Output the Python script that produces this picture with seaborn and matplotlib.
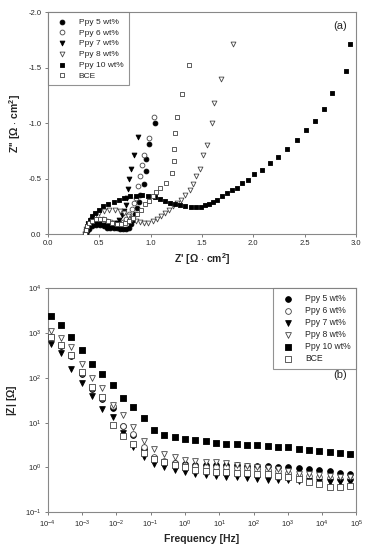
import numpy as np
import pandas as pd
import matplotlib
matplotlib.use('Agg')
import matplotlib.pyplot as plt
import seaborn as sns

# ---- (a) Nyquist data: Z' and -Z'' [ohm cm2] ----
ppy5_re = [0.37, 0.38, 0.40, 0.43, 0.47, 0.51, 0.55, 0.58, 0.61, 0.64, 0.67, 0.70, 0.73, 0.76,
           0.79, 0.81, 0.83, 0.85, 0.87, 0.89, 0.90, 0.94, 0.955, 0.955, 0.99, 1.04]
ppy5_im = [0.0, 0.03, 0.05, 0.07, 0.08, 0.08, 0.07, 0.06, 0.055, 0.06, 0.06, 0.05, 0.045, 0.045,
           0.06, 0.09, 0.13, 0.18, 0.24, 0.29, 0.35, 0.455, 0.57, 0.68, 0.81, 1.0]
ppy6_re = [0.36, 0.37, 0.39, 0.42, 0.46, 0.50, 0.54, 0.58, 0.62, 0.66, 0.70, 0.73, 0.76, 0.79,
           0.82, 0.84, 0.86, 0.875, 0.90, 0.92, 0.94, 0.99, 1.035]
ppy6_im = [0.0, 0.04, 0.08, 0.11, 0.13, 0.14, 0.135, 0.12, 0.11, 0.10, 0.10, 0.11, 0.14, 0.18,
           0.23, 0.28, 0.33, 0.43, 0.52, 0.62, 0.71, 0.865, 1.06]
ppy7_re = [0.36, 0.37, 0.39, 0.42, 0.46, 0.50, 0.54, 0.57, 0.60, 0.63, 0.66, 0.69, 0.72, 0.74,
           0.76, 0.775, 0.785, 0.795, 0.814, 0.84, 0.88]
ppy7_im = [0.0, 0.03, 0.06, 0.08, 0.09, 0.09, 0.08, 0.07, 0.07, 0.08, 0.10, 0.13, 0.17, 0.21,
           0.26, 0.33, 0.41, 0.50, 0.59, 0.71, 0.877]
ppy8_re = [0.36, 0.37, 0.39, 0.42, 0.46, 0.50, 0.55, 0.60, 0.65, 0.70, 0.74, 0.78, 0.82, 0.86,
           0.90, 0.94, 0.98, 1.02, 1.06, 1.10, 1.14, 1.18, 1.22, 1.26, 1.30, 1.34, 1.38, 1.41,
           1.44, 1.48, 1.51, 1.545, 1.60, 1.62, 1.69, 1.80]
ppy8_im = [0.0, 0.05, 0.09, 0.13, 0.16, 0.19, 0.21, 0.22, 0.22, 0.21, 0.19, 0.16, 0.14, 0.12,
           0.11, 0.10, 0.105, 0.12, 0.14, 0.16, 0.19, 0.22, 0.25, 0.28, 0.31, 0.35, 0.40, 0.45,
           0.52, 0.59, 0.71, 0.805, 1.0, 1.185, 1.40, 1.71]
ppy10_re = [0.36, 0.37, 0.38, 0.39, 0.41, 0.43, 0.46, 0.50, 0.54, 0.59, 0.64, 0.69, 0.74, 0.80,
            0.86, 0.92, 0.98, 1.04, 1.09, 1.14, 1.19, 1.24, 1.29, 1.34, 1.39, 1.44, 1.49, 1.53,
            1.57, 1.61, 1.65, 1.70, 1.74, 1.79, 1.84, 1.89, 1.95, 2.01, 2.08, 2.16, 2.24, 2.33,
            2.42, 2.51, 2.60, 2.69, 2.77, 2.90, 2.94]
ppy10_im = [0.0, 0.04, 0.07, 0.10, 0.13, 0.16, 0.19, 0.22, 0.25, 0.27, 0.29, 0.31, 0.33, 0.34,
            0.345, 0.35, 0.345, 0.335, 0.32, 0.30, 0.285, 0.27, 0.26, 0.25, 0.245, 0.243, 0.245, 0.26,
            0.275, 0.29, 0.31, 0.34, 0.37, 0.395, 0.42, 0.46, 0.49, 0.54, 0.58, 0.64, 0.70, 0.77,
            0.85, 0.94, 1.02, 1.125, 1.275, 1.47, 1.71]
bce_re = [0.36, 0.37, 0.38, 0.40, 0.43, 0.47, 0.51, 0.55, 0.59, 0.63, 0.67, 0.71, 0.75, 0.79,
          0.83, 0.87, 0.91, 0.95, 0.99, 1.02, 1.05, 1.09, 1.15, 1.21, 1.23, 1.23, 1.24, 1.26,
          1.31, 1.37]
bce_im = [0.0, 0.04, 0.07, 0.10, 0.12, 0.135, 0.14, 0.135, 0.12, 0.10, 0.09, 0.09, 0.10, 0.12,
          0.15, 0.18, 0.22, 0.27, 0.30, 0.34, 0.38, 0.42, 0.46, 0.55, 0.66, 0.77, 0.91, 1.06,
          1.26, 1.52]

# ---- (b) Bode data: |Z| [ohm] vs frequency [Hz] ----
freq = [1.22e-4, 2.44e-4, 4.88e-4, 9.77e-4, 1.95e-3, 3.91e-3, 7.81e-3, 0.0156, 0.0313, 0.0625,
        0.125, 0.25, 0.5, 1, 2, 4, 8, 16, 32, 64, 128, 256, 512, 1024, 2048, 4096, 8192,
        16384, 32768, 65536]
z_ppy5 = [830, 510, 300, 125, 55, 34, 21, 8.3, 5.3, 2.6, 1.6, 1.35, 1.25, 1.18, 1.15, 1.13,
          1.12, 1.12, 1.11, 1.1, 1.1, 1.08, 1.05, 1.0, 0.97, 0.93, 0.88, 0.82, 0.76, 0.72]
z_ppy6 = [800, 530, 320, 130, 58, 36, 23, 8.5, 5.6, 2.8, 1.7, 1.4, 1.25, 1.15, 1.1, 1.05,
          1.02, 1.0, 0.98, 0.95, 0.92, 0.88, 0.82, 0.75, 0.68, 0.64, 0.6, 0.58, 0.56, 0.56]
z_ppy7 = [560, 365, 155, 78, 40, 20, 13.5, 6.0, 2.9, 1.7, 1.18, 1.0, 0.9, 0.8, 0.72, 0.68,
          0.65, 0.62, 0.6, 0.57, 0.55, 0.53, 0.52, 0.52, 0.51, 0.5, 0.48, 0.47, 0.47, 0.48]
z_ppy8 = [1100, 790, 500, 200, 98, 60, 25, 15, 7.8, 3.9, 2.6, 2.0, 1.7, 1.5, 1.4, 1.35,
          1.3, 1.23, 1.16, 1.1, 1.05, 0.99, 0.93, 0.82, 0.72, 0.71, 0.68, 0.65, 0.62, 0.62]
z_ppy10 = [2450, 1510, 800, 410, 205, 120, 71, 36, 22, 13, 6.8, 5.4, 4.8, 4.4, 4.1, 3.8,
           3.6, 3.4, 3.3, 3.2, 3.1, 3.0, 2.9, 2.8, 2.6, 2.5, 2.3, 2.2, 2.1, 2.0]
z_bce = [800, 550, 330, 135, 62, 38, 8.7, 5.1, 3.3, 2.1, 1.55, 1.3, 1.15, 1.0, 0.9, 0.85,
         0.8, 0.78, 0.76, 0.74, 0.72, 0.7, 0.66, 0.6, 0.54, 0.48, 0.42, 0.37, 0.36, 0.38]

labels = ['Ppy 5 wt%', 'Ppy 6 wt%', 'Ppy 7 wt%', 'Ppy 8 wt%', 'Ppy 10 wt%', 'BCE']
markers = ['o', 'o', 'v', 'v', 's', 's']
faces = ['black', 'white', 'black', 'white', 'black', 'white']
edges = ['black', '#444444', 'black', '#444444', 'black', '#444444']


def _style(ax):
    for sp in ax.spines.values():
        sp.set_color('#888888')
        sp.set_linewidth(0.8)
    ax.tick_params(axis='both', which='major', labelsize=5.5, length=2.5, width=0.6,
                   color='#666666', pad=2)
    ax.tick_params(axis='both', which='minor', length=0)


def _legend(ax, loc, fs):
    leg = ax.legend(loc=loc, fontsize=fs, frameon=True, fancybox=False, borderaxespad=0,
                    handletextpad=1.0, labelspacing=0.35, borderpad=0.7, handlelength=2.0,
                    markerscale=1.0)
    leg.get_frame().set_edgecolor('#777777')
    leg.get_frame().set_linewidth(0.8)


def _nyquist(ax):
    re_list = [ppy5_re, ppy6_re, ppy7_re, ppy8_re, ppy10_re, bce_re]
    im_list = [ppy5_im, ppy6_im, ppy7_im, ppy8_im, ppy10_im, bce_im]
    for re, im, lab, m, fc, ec in zip(re_list, im_list, labels, markers, faces, edges):
        df = pd.DataFrame({'re': re, 'im': [-v for v in im]})
        sns.scatterplot(data=df, x='re', y='im', ax=ax, marker=m, color=fc, edgecolor=ec,
                        linewidth=0.6, s=12, label=lab, zorder=3)
    ax.set_xlim(0, 3.0)
    ax.set_ylim(0, -2.0)
    ax.set_xticks(np.arange(0, 3.01, 0.5))
    ax.set_yticks([0, -0.5, -1.0, -1.5, -2.0])
    ax.xaxis.set_major_formatter(matplotlib.ticker.FormatStrFormatter('%.1f'))
    ax.yaxis.set_major_formatter(matplotlib.ticker.FormatStrFormatter('%.1f'))
    ax.set_xlabel(r"Z' [$\mathbf{\Omega}$ $\mathbf{\cdot}$ cm$^\mathbf{2}$]", fontsize=7.5,
                  fontweight='bold', labelpad=3)
    ax.set_ylabel(r"Z'' [$\mathbf{\Omega}$ $\mathbf{\cdot}$ cm$^\mathbf{2}$]", fontsize=7.5,
                  fontweight='bold', labelpad=4)
    _style(ax)
    _legend(ax, 'upper left', 6)
    ax.text(0.97, 0.94, '(a)', transform=ax.transAxes, ha='right', va='center', fontsize=8)


def _bode(ax):
    z_list = [z_ppy5, z_ppy6, z_ppy7, z_ppy8, z_ppy10, z_bce]
    for z, lab, m, fc, ec in zip(z_list, labels, markers, faces, edges):
        df = pd.DataFrame({'f': freq, 'z': z})
        sns.scatterplot(data=df, x='f', y='z', ax=ax, marker=m, color=fc, edgecolor=ec,
                        linewidth=0.6, s=17, label=lab, zorder=3)
    ax.set_xscale('log')
    ax.set_yscale('log')
    ax.set_xlim(1e-4, 1e5)
    ax.set_ylim(1e-1, 1e4)
    ax.xaxis.set_major_locator(matplotlib.ticker.LogLocator(base=10, numticks=12))
    ax.set_xlabel('Frequency [Hz]', fontsize=7.5, fontweight='bold', labelpad=3)
    ax.set_ylabel(r'|Z| [$\mathbf{\Omega}$]', fontsize=7.5, fontweight='bold', labelpad=4)
    _style(ax)
    _legend(ax, 'upper right', 6.2)
    ax.text(0.97, 0.613, '(b)', transform=ax.transAxes, ha='right', va='center', fontsize=8)


def draw():
    fig = plt.figure(figsize=(3.65, 5.55), dpi=100)
    ax_a = fig.add_axes([0.1307, 0.578, 0.845, 0.400])
    ax_b = fig.add_axes([0.1307, 0.077, 0.846, 0.4036])
    _nyquist(ax_a)
    _bode(ax_b)
    fig.savefig('out.png', dpi=100)


if __name__ == '__main__':
    sns.set_style('ticks')
    plt.rcParams['font.family'] = ['Liberation Sans', 'DejaVu Sans']
    plt.rcParams['axes.unicode_minus'] = False
    plt.rcParams['mathtext.fontset'] = 'custom'
    plt.rcParams['mathtext.rm'] = 'Liberation Sans'
    plt.rcParams['mathtext.bf'] = 'Liberation Sans:bold'
    draw()
